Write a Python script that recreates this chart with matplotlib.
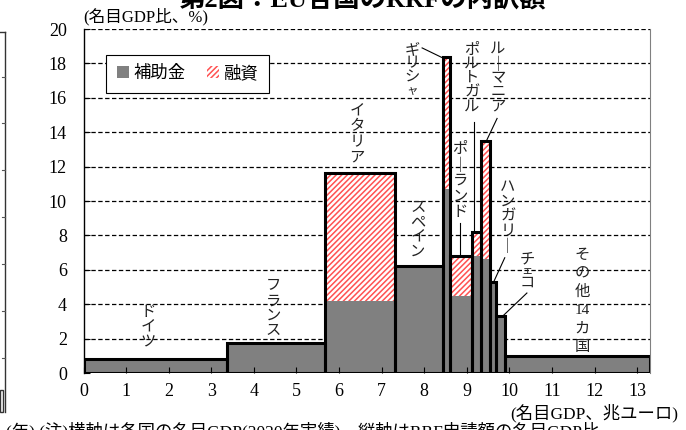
import matplotlib
matplotlib.use("Agg")
import matplotlib.pyplot as plt
from matplotlib.patches import Patch, Rectangle
from matplotlib.lines import Line2D

plt.rcParams['font.family'] = ['Liberation Serif', 'Noto Sans CJK JP']
plt.rcParams['hatch.linewidth'] = 1.1

# Country blocks: width = nominal GDP 2020 (trillion EUR), height = RRF request (% of GDP)
countries = ["ドイツ", "フランス", "イタリア", "スペイン", "ギリシャ", "ポーランド",
             "ポルトガル", "ルーマニア", "ハンガリー", "チェコ", "その他14カ国"]
gdp = [3.37, 2.30, 1.65, 1.12, 0.165, 0.52, 0.20, 0.22, 0.14, 0.21, 3.40]
grants = [0.8, 1.75, 4.2, 6.2, 10.7, 4.5, 6.8, 6.6, 5.3, 3.3, 1.0]
loans = [0.0, 0.0, 7.4, 0.0, 7.7, 2.3, 1.4, 6.9, 0.0, 0.0, 0.0]

xticks = list(range(0, 14))
yticks = list(range(0, 21, 2))

GRAY = "#808080"
RED = "#ff5252"

fig = plt.figure(figsize=(6.86, 4.30), dpi=100)
W, H = 686, 430
ax = fig.add_axes([83.5 / W, 1 - 373 / H, 566.5 / W, 344 / H])

lefts = []
acc = 0.0
for g in gdp:
    lefts.append(acc)
    acc += g
totals = [a + b for a, b in zip(grants, loans)]

# dashed gridlines behind the blocks
for yv in yticks[1:]:
    ax.axhline(yv, color="black", lw=0.9, ls=(0, (3.5, 2)), zorder=0.5)

ax.bar(lefts, grants, width=gdp, align="edge", color=GRAY, linewidth=0, zorder=1)
ax.bar(lefts, loans, width=gdp, bottom=grants, align="edge", color="white",
       edgecolor=RED, linewidth=0, hatch="//////", zorder=1)
ax.bar(lefts, totals, width=gdp, align="edge", fill=False, edgecolor="black",
       linewidth=2.2, zorder=2)

ax.set_xlim(0, 13.3)
ax.set_ylim(0, 20)
ax.set_xticks(xticks)
ax.set_yticks(yticks)
ax.tick_params(axis="both", direction="in", length=4, width=0.8, labelsize=13,
               colors="black")
ax.tick_params(axis="x", pad=7)
ax.tick_params(axis="y", pad=12)
ax.spines["top"].set_visible(False)
ax.spines["bottom"].set_visible(False)
ax.spines["right"].set_color(GRAY)
ax.spines["left"].set_linewidth(1.0)


def vlabel(x, ytop, tokens, step=0.86, fs=11):
    """Stack the tokens top-to-bottom to imitate vertical Japanese writing."""
    y = ytop
    for tok in tokens:
        t = "｜" if tok == "ー" else tok
        size = fs * 0.75 if tok in "ャェ" else fs
        ax.text(x, y, t, ha="center", va="center", fontsize=size, color="#222222",
                zorder=4)
        y -= step


vlabel(1.51, 3.5, list("ドイツ"))
vlabel(4.45, 5.0, list("フランス"))
vlabel(6.42, 15.2, list("イタリア"), step=0.9)
vlabel(7.85, 9.55, list("スペイン"), step=0.84)
vlabel(7.71, 18.8, list("ギリシャ"), step=0.82)
vlabel(9.12, 18.8, list("ポルトガル"), step=0.84)
vlabel(9.73, 18.8, list("ルーマニア"), step=0.83)
vlabel(8.84, 13.0, list("ポーランド"), step=0.92)
vlabel(9.96, 10.8, list("ハンガリー"), step=0.86)
vlabel(10.41, 6.55, list("チェコ"), step=0.66)
vlabel(11.7, 6.85, ["そ", "の", "他", "14", "カ", "国"], step=1.07)

# leader lines from labels to blocks
leaders = [
    ((7.95, 8.45), (18.9, 18.3)),
    ((9.17, 9.17), (14.6, 8.2)),
    ((9.71, 9.47), (14.8, 13.55)),
    ((8.84, 8.84), (8.7, 6.85)),
    ((9.89, 9.64), (6.7, 5.35)),
    ((10.41, 9.86), (4.65, 3.35)),
]
for xs, ys in leaders:
    ax.plot(xs, ys, color="black", lw=0.8, zorder=3)

handles = [Patch(facecolor=GRAY, edgecolor="none", label="補助金"),
           Patch(facecolor="white", edgecolor=RED, hatch="//////", linewidth=0,
                 label="融資")]
leg = ax.legend(handles=handles, loc="upper left", bbox_to_anchor=(0.04, 0.924),
                borderaxespad=0, ncol=2, fontsize=12.5, handlelength=0.7,
                handleheight=0.7, handletextpad=0.3, columnspacing=1.2,
                fancybox=False, edgecolor="black", framealpha=1, borderpad=0.6)
leg.get_frame().set_linewidth(0.8)

# axis captions and heading
fig.text(83 / W, 1 - 17 / H, "(名目GDP比、%)", ha="left", va="center", fontsize=12)
fig.text(678 / W, 1 - 413 / H, "(名目GDP、兆ユーロ)", ha="right", va="center",
         fontsize=12.5)
fig.text(362 / W, 1 - 12 / H, "第2図：EU各国のRRFの内訳額", ha="center",
         va="bottom", fontsize=19, fontweight="bold")
fig.text(6 / W, 1 - 422 / H, "(年) (注)横軸は各国の名目GDP(2020年実績)、縦軸はRRF申請額の名目GDP比",
         ha="left", va="top", fontsize=12.5)

# edge of the neighbouring panel
fig.add_artist(Line2D([4.5 / W, 4.5 / W], [1 - 32 / H, 1 - 412 / H], color="#333333",
                      lw=1.0))
fig.add_artist(Line2D([0, 4.5 / W], [1 - 32 / H, 1 - 32 / H], color="#333333", lw=1.0))
for ty in (77, 123, 170, 217, 264, 311, 358):
    fig.add_artist(Line2D([1.5 / W, 4.5 / W], [1 - ty / H, 1 - ty / H],
                          color="#555555", lw=0.8))
fig.add_artist(Rectangle((0, 1 - 412 / H), 3.5 / W, 22 / H, transform=fig.transFigure,
                         fill=False, edgecolor="#333333", lw=1.0))

fig.savefig("out.png", dpi=100)
